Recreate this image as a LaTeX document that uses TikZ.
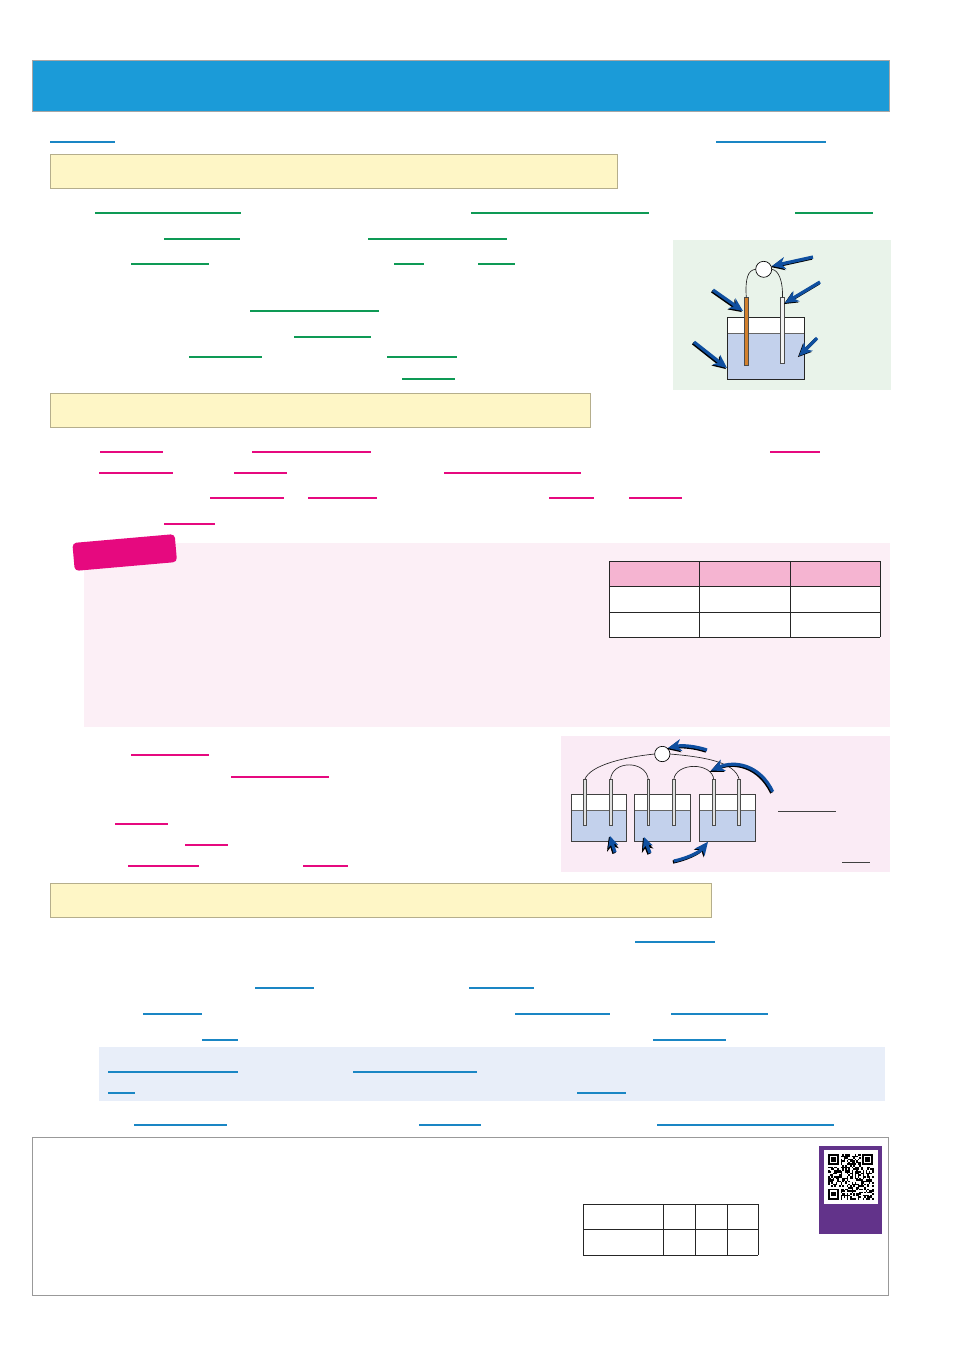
\documentclass[tikz,border=0pt]{standalone}
\usetikzlibrary{arrows.meta}
\definecolor{bannerblue}{HTML}{1B9BD8}
\definecolor{linkblue}{HTML}{1A86C4}
\definecolor{linkgreen}{HTML}{0E9A55}
\definecolor{linkpink}{HTML}{E6097F}
\definecolor{notefill}{HTML}{FEF6C6}
\definecolor{notedraw}{HTML}{B5AE8C}
\definecolor{liquid}{HTML}{C3D1EC}
\definecolor{arrowblue}{HTML}{0F4FA0}
\definecolor{qrpurple}{HTML}{62338A}
\definecolor{panelgreen}{HTML}{E9F3EA}
\definecolor{panelpink}{HTML}{FCEFF6}
\definecolor{panellilac}{HTML}{FAEBF5}
\definecolor{panelblue}{HTML}{E8EEF9}
\definecolor{headpink}{HTML}{F5B4D1}
\tikzset{
    note/.style={fill=notefill,draw=notedraw,line width=0.7pt},
    rule/.style={line width=1.1pt},
    meter/.style={circle,draw=black,fill=white,line width=0.5pt,minimum size=12pt,inner sep=0,outer sep=0},
    rod/.style={rectangle,draw=black!70,fill=white!88!black,line width=0.5pt,inner sep=0,outer sep=0},
    wire/.style={line width=0.5pt,black!85},
    pointer/.style={line width=2.4pt,arrowblue,-{Stealth[length=10pt,width=9pt,inset=3pt]},
        preaction={draw=black,line width=2.4pt,-{Stealth[length=10pt,width=9pt,inset=3pt]},transform canvas={xshift=-0.8pt,yshift=-0.8pt}}},
    small pointer/.style={pointer,-{Stealth[length=8pt,width=7.5pt,inset=2pt]},
        preaction={draw=black,line width=2.4pt,-{Stealth[length=8pt,width=7.5pt,inset=2pt]},transform canvas={xshift=-0.6pt,yshift=-0.6pt}}},
    grid cell/.style={draw=black!85,line width=0.6pt}
}
\begin{document}
\begin{tikzpicture}[x=0.75pt,y=-0.75pt]
    \useasboundingbox (0,0) rectangle (954,1350);
    \fill[white] (0,0) rectangle (954,1350);

    % banner and headings
    \filldraw[fill=bannerblue,draw=black!35,line width=0.6pt] (32,60) rectangle (889.8,111);
    \draw[note] (50,154) rectangle (617,188);
    \draw[note] (50,393) rectangle (590.8,427);
    \draw[note] (50,883) rectangle (711,917);

    % panels
    \fill[panelgreen] (673,240) rectangle (891,390);
    \fill[panelpink] (84,543) rectangle (890,727);
    \fill[panellilac] (561,736) rectangle (890,872);
    \fill[panelblue] (99,1047) rectangle (885,1101);
    \draw[black!40,line width=0.6pt] (32,1137) rectangle (888.8,1295);

    % underlines
    \foreach \xa/\xb/\y in {50/115/142,716/826/142,635/715/942,255/314/988,469/534/988,
            143/202/1014,515/610/1014,671/768/1014,202/238/1040,653/726/1040,108/238/1072,
            353/477/1072,108/135/1093,577/626/1093,134/227/1125,419/481/1125,657/834/1125}
        \draw[rule,linkblue] (\xa,\y) -- (\xb,\y);
    \foreach \xa/\xb/\y in {95/241/213,471/649/213,795/873/213,164/240/239,368/507/239,
            131/209/264,394/424/264,478/515/264,250/379/311,294/371/337,189/262/357,
            387/457/357,402/455/379}
        \draw[rule,linkgreen] (\xa,\y) -- (\xb,\y);
    \foreach \xa/\xb/\y in {100/163/452,252/371/452,770/820/452,99/173/473,234/287/473,
            444/581/473,210/284/498,308/377/498,549/594/498,629/682/498,164/215/524,
            131/209/755,231/329/777,115/168/824,185/228/845,128/199/866,303/348/866}
        \draw[rule,linkpink] (\xa,\y) -- (\xb,\y);
    \draw[rule,black!75,line width=0.7pt] (778,811) -- (836,811);
    \draw[rule,black!75,line width=0.7pt] (842,862) -- (870,862);

    % tag
    \node[rectangle,rounded corners=3pt,fill=linkpink,rotate=5,minimum width=77pt,minimum height=21pt,inner sep=0] (tag) at (124.7,552.5) {};

    % table one
    \fill[white] (609,586) rectangle (880,637);
    \fill[headpink] (609,561) rectangle (880,586);
    \foreach \x in {609,699,790,880}
        \draw[grid cell] (\x,561) -- (\x,637);
    \foreach \y in {561,586,612,637}
        \draw[grid cell] (609,\y) -- (880,\y);

    % cell
    \fill[white] (727.5,317) rectangle (804.5,334);
    \fill[liquid] (727.5,333.5) rectangle (804.5,379);
    \draw[black!60,line width=0.6pt] (727.5,333.5) -- (804.5,333.5);
    \draw[black!85,line width=0.7pt] (727.5,317) rectangle (804.5,379);
    \node[rod,fill=brown!70!orange,minimum width=3pt,minimum height=50.5pt] (copper) at (746.3,331.3) {};
    \node[rod,fill=white!95!black,minimum width=2.7pt,minimum height=49.5pt] (zinc) at (782.5,330.3) {};
    \node[meter] (dial) at (763.7,269.3) {};
    \draw[wire] (copper.north) .. controls (745,278) and (748,270) .. (dial.west);
    \draw[wire] (zinc.north) .. controls (783,282) and (779,270) .. (dial.east);
    \draw[pointer] (813,257) -- (772,266);
    \draw[pointer] (820,282) -- (785,303);
    \draw[pointer] (713,290) -- (743,311);
    \draw[pointer] (694,342) -- (727,368);
    \draw[pointer] (817,338) -- (799,356);

    % three cells in series
    \foreach \xa/\xb in {571/626.5,634.3/690,699.7/755.3}{
        \fill[white] (\xa,794.5) rectangle (\xb,810.5);
        \fill[liquid] (\xa,810) rectangle (\xb,841.7);
        \draw[black!60,line width=0.6pt] (\xa,810) -- (\xb,810);
        \draw[black!75,line width=0.6pt] (\xa,794.5) rectangle (\xb,841.7);
    }
    \node[rod,minimum width=2.2pt,minimum height=34.5pt] (r1) at (584.8,802.5) {};
    \node[rod,minimum width=2.2pt,minimum height=34.5pt] (r2) at (610.5,802.5) {};
    \node[rod,minimum width=2.2pt,minimum height=34.5pt] (r3) at (648.3,802.5) {};
    \node[rod,minimum width=2.2pt,minimum height=34.5pt] (r4) at (673.8,802.5) {};
    \node[rod,minimum width=2.2pt,minimum height=34.5pt] (r5) at (713.8,802.5) {};
    \node[rod,minimum width=2.2pt,minimum height=34.5pt] (r6) at (739.2,802.5) {};
    \node[meter,minimum size=11.5pt] (dialb) at (662.3,754) {};
    \draw[wire] (r1.north) .. controls (590,765) and (625,757) .. (dialb.west);
    \draw[wire] (dialb.east) .. controls (705,757) and (735,762) .. (r6.north);
    \draw[wire] (r2.north) .. controls (612,760) and (646,760) .. (r3.north);
    \draw[wire] (r4.north) .. controls (676,762) and (712,762) .. (r5.north);
    \draw[pointer] (707,750) .. controls (695,746) and (682,745) .. (668,748);
    \draw[pointer] (772.7,791.7) .. controls (760,765) and (735,760) .. (711,770.7);
    \draw[small pointer] (615,852.3) -- (610,836);
    \draw[small pointer] (650,853) -- (644,837);
    \draw[pointer] (674,861) .. controls (688,858) and (700,852) .. (708,841.7);

    % table two
    \foreach \x in {583,663,695,727,758}
        \draw[grid cell] (\x,1204) -- (\x,1255);
    \foreach \y in {1204,1229,1255}
        \draw[grid cell] (583,\y) -- (758,\y);

    % qr card
    \fill[qrpurple] (819,1146) rectangle (882,1234);
    \fill[white] (824,1150) rectangle (878,1204);
    \pgfmathsetseed{41}
    \foreach \i in {0,...,28}{
        \foreach \j in {0,...,28}{
            \pgfmathtruncatemacro\hit{(rnd<0.52 && !((\i<8 && \j<8) || (\i>20 && \j<8) || (\i<8 && \j>20))) ? 1 : 0}
            \ifnum\hit=1
                \fill[black] ({828+\i*1.57},{1154+\j*1.57}) rectangle ++(1.6,1.6);
            \fi
        }
    }
    \foreach \x/\y in {828/1154,862/1154,828/1188.5}{
        \fill[black] (\x,\y) rectangle ++(11,11);
        \fill[white] (\x+1.6,\y+1.6) rectangle ++(7.8,7.8);
        \fill[black] (\x+3.1,\y+3.1) rectangle ++(4.8,4.8);
    }
\end{tikzpicture}
\end{document}
